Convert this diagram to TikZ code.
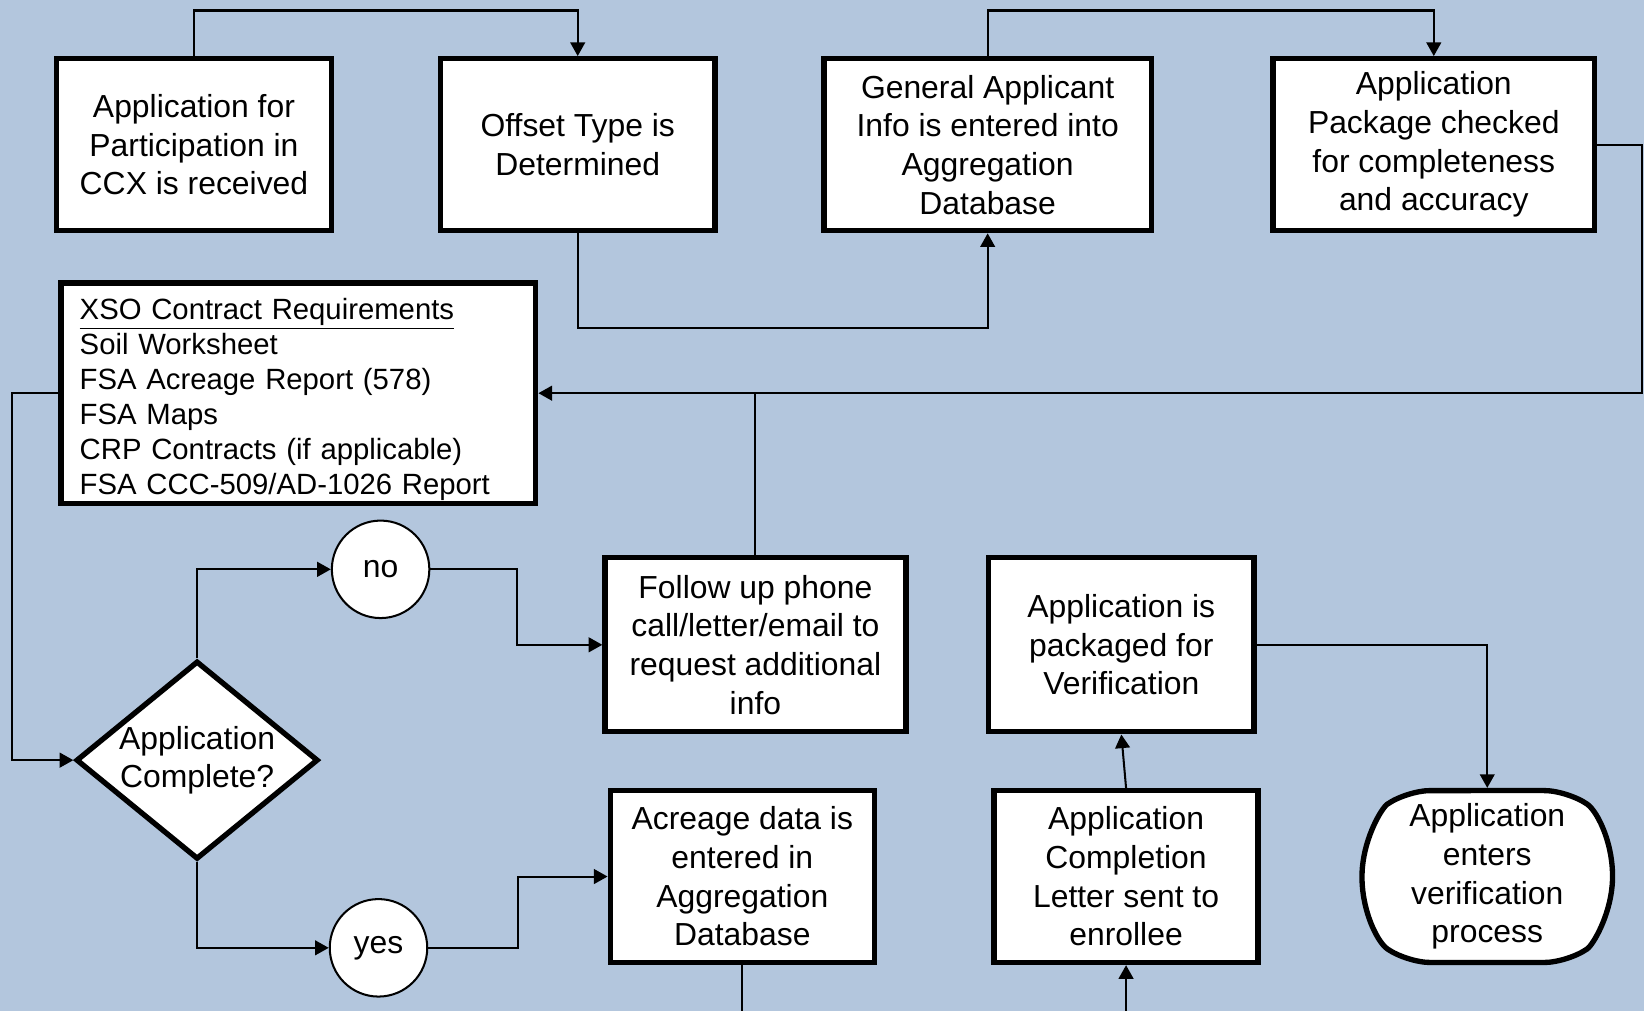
\documentclass[tikz,border=0pt]{standalone}
\usepackage{fontspec}
\setmainfont{Liberation Sans}
\usetikzlibrary{arrows.meta,shapes.geometric,shapes.misc}
\definecolor{bgblue}{RGB}{179,198,221}
\tikzset{
  stepbox/.style={draw=black, fill=white, line width=2.9pt, inner sep=0pt,
    align=center, font=\fontsize{17.3}{21}\selectfont},
  answer/.style={circle, draw=black, fill=white, line width=1.1pt, inner sep=0pt,
    minimum size=1.86cm, font=\fontsize{17.3}{21}\selectfont},
  flow/.style={draw=black, line width=1.1pt},
  arr/.style={flow, -{Triangle[length=0.26cm,width=0.28cm]}}
}
\begin{document}
\begin{tikzpicture}[x=0.02cm, y=-0.02cm]
    \fill[bgblue] (0,0) rectangle (1568,964);
    \useasboundingbox (0,0) rectangle (1568,964);
    % turning rows and columns
    \coordinate (toprow) at (0,10);
    \coordinate (midrow) at (0,313);
    \coordinate (bottom) at (0,964);
    \coordinate (leftcol) at (11,0);
    \coordinate (rightcol) at (1566,0);
    % top row
    \node[stepbox, minimum width=5.24cm, minimum height=3.28cm] (recv) at (185,138)
        {Application for\\Participation in\\CCX is received};
    \node[stepbox, minimum width=5.24cm, minimum height=3.28cm] (offset) at (551,138)
        {Offset Type is\\Determined};
    \node[stepbox, minimum width=6.24cm, minimum height=3.28cm] (info) at (942,138)
        {General Applicant\\Info is entered into\\Aggregation\\Database};
    \node[stepbox, minimum width=6.14cm, minimum height=3.28cm] (check) at (1367.5,138)
        {Application\\Package checked\\for completeness\\and accuracy};
    % requirements
    \node[stepbox, minimum width=9.06cm, minimum height=4.2cm, text width=8.34cm,
        align=left, font=\fontsize{15.9}{19}\selectfont] (xso) at (284.5,375)
        {\rule{0pt}{18.5pt}\underline{XSO Contract Requirements}\\Soil Worksheet\\FSA Acreage Report (578)\\FSA Maps\\CRP Contracts (if applicable)\\FSA CCC-509/AD-1026 Report};
    % decision
    \node[stepbox, diamond, aspect=1.2, minimum width=4.62cm, minimum height=3.78cm] (decide) at (188,725)
        {Application\\Complete?};
    \node[answer] (no) at (363,543) {no};
    \node[answer] (yes) at (361,904) {yes};
    \node[stepbox, minimum width=5.74cm, minimum height=3.32cm] (follow) at (720.5,615)
        {Follow up phone\\call/letter/email to\\request additional\\info};
    \node[stepbox, minimum width=5.04cm, minimum height=3.28cm] (acreage) at (708,836)
        {Acreage data is\\entered in\\Aggregation\\Database};
    \node[stepbox, minimum width=5.06cm, minimum height=3.32cm] (packaged) at (1069.5,615)
        {Application is\\packaged for\\Verification};
    \node[stepbox, minimum width=5.04cm, minimum height=3.28cm] (letter) at (1074,836)
        {Application\\Completion\\Letter sent to\\enrollee};
    \node[stepbox, rounded rectangle, rounded rectangle arc length=110, rounded corners=0.45cm,
        minimum width=4.78cm, minimum height=3.28cm] (verify) at (1418.5,836)
        {Application\\enters\\verification\\process};
    % connectors
    \draw[arr] (recv.north) |- (toprow -| offset.north) -- (offset.north);
    \draw[arr] (offset.south) |- (midrow -| info.south) -- (info.south);
    \draw[arr] (info.north) |- (toprow -| check.north) -- (check.north);
    \draw[arr] (check.east) -| (rightcol |- xso.east) -- (xso.east);
    \draw[flow] (follow.north) -- (follow.north |- xso.east);
    \draw[arr] (xso.west) -- (xso.west -| leftcol) |- (decide.west);
    \draw[arr] (decide.north) |- (no.west);
    \draw[arr] (no.east) -- ++(83,0) |- (follow.west);
    \draw[arr] (decide.south) |- (yes.west);
    \draw[arr] (yes.east) -- ++(86,0) |- (acreage.west);
    \draw[flow] (acreage.south) -- (acreage.south |- bottom);
    \draw[arr] (letter.south |- bottom) -- (letter.south);
    \draw[arr] (letter.north) -- (packaged.south);
    \draw[arr] (packaged.east) -| (verify.north);
\end{tikzpicture}
\end{document}
